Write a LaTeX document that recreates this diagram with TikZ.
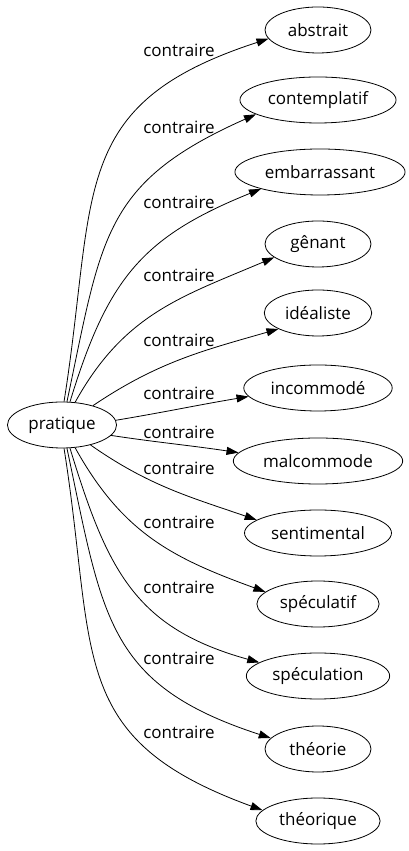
\documentclass[tikz,border=0pt]{standalone}
\usepackage{fontspec}
\setmainfont{Open Sans}
\usetikzlibrary{shapes.geometric,arrows.meta}

\tikzset{
  word/.style={draw, ellipse, line width=0.8pt, inner xsep=5pt, inner ysep=0pt,
    minimum width=106pt, minimum height=46pt, font=\fontsize{17}{20}\selectfont},
  link/.style={line width=0.8pt, -{Triangle[length=12pt,width=8pt]}},
  rel/.style={font=\fontsize{17}{20}\selectfont, inner sep=0pt},
}

\begin{document}
\begin{tikzpicture}[x=1pt,y=1pt]
    \useasboundingbox (0,0) rectangle (408,851);
    % source word
    \node[word] (pratique) at (62,426) {pratique};
    % opposites, one column
    \node[word] (abstrait) at (318,821) {abstrait};
    \node[word] (contemplatif) at (318,751) {contemplatif};
    \node[word] (embarrassant) at (320,679) {embarrassant};
    \node[word] (genant) at (318,607) {gênant};
    \node[word] (idealiste) at (318,538) {idéaliste};
    \node[word] (incommode) at (318,463) {incommodé};
    \node[word] (malcommode) at (318,390) {malcommode};
    \node[word] (sentimental) at (318,318) {sentimental};
    \node[word] (speculatif) at (318,247) {spéculatif};
    \node[word] (speculation) at (318,175) {spéculation};
    \node[word] (theorie) at (318,102) {théorie};
    \node[word] (theorique) at (318,30) {théorique};
    % edges
    \draw[link] (pratique.85) to[out=81,in=198,looseness=1.3] (abstrait.190);
    \draw[link] (pratique.78) to[out=78,in=204,looseness=1.25] (contemplatif.193);
    \draw[link] (pratique.71) to[out=73,in=202,looseness=1.15] (embarrassant.196);
    \draw[link] (pratique.60) to[out=61,in=203,looseness=1.05] (genant.197);
    \draw[link] (pratique.32) to[out=34,in=196] (idealiste.202);
    \draw[link] (pratique.5) to[out=9.5,in=189.5] (incommode.187);
    \draw[link] (pratique.348) to[out=-8.5,in=171.5] (malcommode.174.5);
    \draw[link] (pratique.325) to[out=-35,in=161] (sentimental.168);
    \draw[link] (pratique.300) to[out=-61,in=160,looseness=1.05] (speculatif.167);
    \draw[link] (pratique.289) to[out=-73,in=164.5,looseness=1.15] (speculation.167);
    \draw[link] (pratique.282) to[out=-78,in=162,looseness=1.25] (theorie.167);
    \draw[link] (pratique.275) to[out=-81,in=160,looseness=1.3] (theorique.169);
    % edge labels
    \node[rel] (c1) at (179,801) {contraire};
    \node[rel] (c2) at (179,724) {contraire};
    \node[rel] (c3) at (179,649) {contraire};
    \node[rel] (c4) at (179,576) {contraire};
    \node[rel] (c5) at (179,511) {contraire};
    \node[rel] (c6) at (179,458) {contraire};
    \node[rel] (c7) at (179,419) {contraire};
    \node[rel] (c8) at (179,383) {contraire};
    \node[rel] (c9) at (179,329) {contraire};
    \node[rel] (c10) at (179,264) {contraire};
    \node[rel] (c11) at (179,193) {contraire};
    \node[rel] (c12) at (179,119) {contraire};
\end{tikzpicture}
\end{document}
